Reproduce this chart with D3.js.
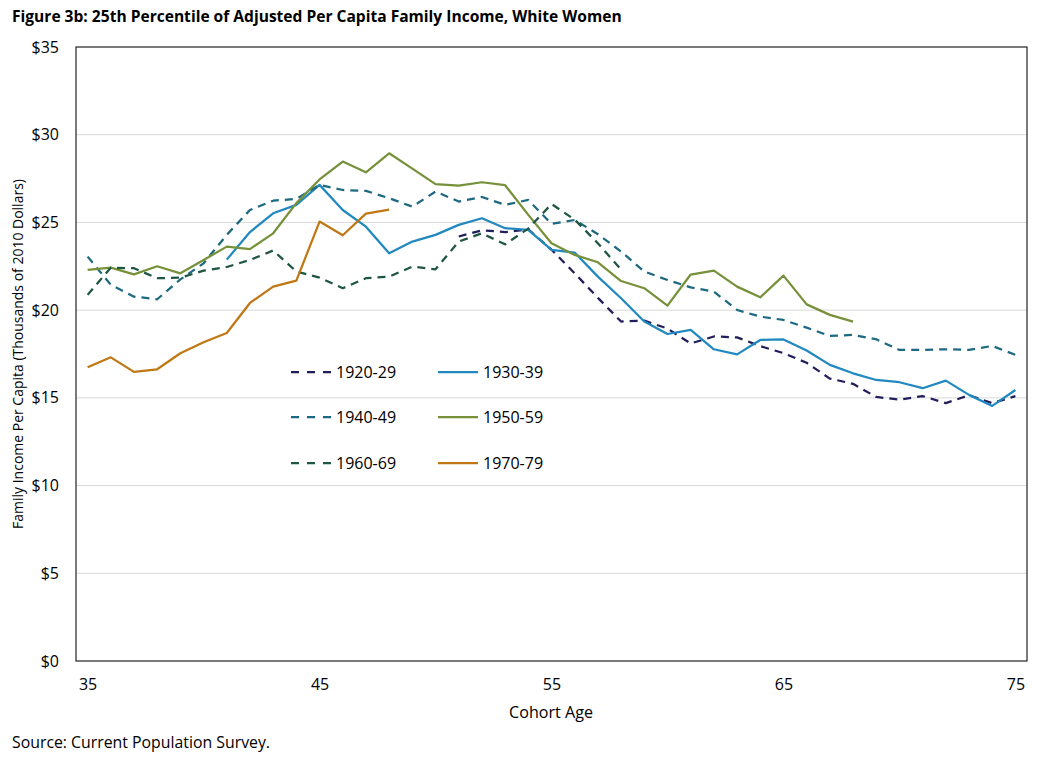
<!DOCTYPE html>
<html><head><meta charset="utf-8">
<script src="https://cdn.jsdelivr.net/npm/d3@7"></script>
<style>
body{margin:0;background:#fff}
svg{display:block}
text{font-family:"Open Sans",sans-serif;fill:#000}
</style>
</head><body>
<svg id="c" width="1044" height="759"></svg>
<script>
// ---- data ----
const ages = [35,36,37,38,39,40,41,42,43,44,45,46,47,48,49,50,51,52,53,54,55,56,57,58,59,60,61,62,63,64,65,66,67,68,69,70,71,72,73,74,75];
const xTickLabels = [35,45,55,65,75];
const yTicks = [0,5,10,15,20,25,30,35];
const cohorts = ["1920-29","1930-39","1940-49","1950-59","1960-69","1970-79"];
const s1920 = [null,null,null,null,null,null,null,null,null,null,null,null,null,null,null,null,
  24.2,24.55,24.45,24.6,23.45,22.1,20.7,19.35,19.4,18.95,18.1,18.5,18.45,17.95,17.55,17.0,16.1,15.8,15.05,14.9,15.1,14.7,15.15,14.7,15.1];
const s1930 = [null,null,null,null,null,null,
  22.88,24.45,25.52,26.0,27.14,25.71,24.76,23.24,23.91,24.29,24.86,25.24,24.67,24.57,23.43,23.28,21.91,20.68,19.35,18.64,18.87,17.77,17.48,18.3,18.33,17.7,16.88,16.4,16.02,15.89,15.55,15.98,15.17,14.54,15.45];
const s1940 = [23.05,21.45,20.77,20.62,21.75,22.67,24.29,25.71,26.24,26.34,27.14,26.85,26.8,26.38,25.9,26.76,26.19,26.45,26.0,26.28,24.92,25.14,24.33,23.34,22.2,21.72,21.3,21.06,20.01,19.63,19.44,19.0,18.53,18.59,18.34,17.73,17.73,17.77,17.73,17.96,17.45];
const s1950 = [22.29,22.42,22.04,22.5,22.1,22.86,23.62,23.48,24.38,26.1,27.45,28.47,27.86,28.94,28.07,27.18,27.1,27.29,27.12,25.43,23.81,23.15,22.73,21.66,21.25,20.26,22.03,22.25,21.34,20.73,21.97,20.33,19.73,19.35,
  null,null,null,null,null,null,null];
const s1960 = [20.87,22.42,22.39,21.82,21.85,22.25,22.46,22.86,23.4,22.2,21.85,21.25,21.82,21.91,22.48,22.33,23.91,24.38,23.75,24.65,26.05,25.16,23.81,22.31,
  null,null,null,null,null,null,null,null,null,null,null,null,null,null,null,null,null];
const s1970 = [16.74,17.31,16.48,16.63,17.54,18.17,18.7,20.41,21.34,21.68,25.05,24.27,25.5,25.73,
  null,null,null,null,null,null,null,null,null,null,null,null,null,null,null,null,null,null,null,null,null,null,null,null,null,null,null];
const seriesValues = [s1920,s1930,s1940,s1950,s1960,s1970];
const colors = ["#221e5c","#2189bf","#1d6a80","#76913a","#1f5642","#c07814"];
const dashed = [true,false,true,false,true,false];

// ---- layout ----
const svg = d3.select("#c");
const L = 76, R = 1027, T = 47, B = 661;
const x = d3.scalePoint().domain(ages).range([L,R]).padding(0.5);
const y = d3.scaleLinear().domain([0,35]).range([B,T]);

function fit(sel, w){
  const n = sel.node();
  const fs = parseFloat(sel.attr("font-size"));
  const len = n.getComputedTextLength();
  if(len>0) sel.attr("font-size", (fs*w/len).toFixed(2));
}

// gridlines
svg.append("g").selectAll("line").data(yTicks.filter(d=>d>0 && d<35)).join("line")
  .attr("x1",L).attr("x2",R).attr("y1",d=>y(d)).attr("y2",d=>y(d))
  .attr("stroke","#d9d9d9").attr("stroke-width",1);

// y axis labels
const yAxis = d3.axisLeft(y).tickValues(yTicks).tickSize(0).tickPadding(17).tickFormat(d=>"$"+d);
const ga = svg.append("g").attr("transform",`translate(${L},0)`).call(yAxis);
ga.select(".domain").remove();
ga.selectAll("text").attr("font-size",16).attr("font-family","Open Sans, sans-serif").attr("fill","#000");

// x axis labels
const xAxis = d3.axisBottom(x).tickValues(xTickLabels).tickSize(0).tickPadding(18);
const gx = svg.append("g").attr("transform",`translate(0,${B})`).call(xAxis);
gx.select(".domain").remove();
gx.selectAll("text").attr("font-size",16).attr("font-family","Open Sans, sans-serif").attr("fill","#000");

// plot frame
svg.append("rect").attr("x",L).attr("y",T).attr("width",R-L).attr("height",B-T)
  .attr("fill","none").attr("stroke","#222").attr("stroke-width",1.2);

// lines
const line = d3.line().defined(d=>d.v!=null).x(d=>x(d.a)).y(d=>y(d.v));
seriesValues.forEach((vals,i)=>{
  const pts = ages.map((a,j)=>({a:a,v:vals[j]}));
  svg.append("path").datum(pts).attr("d",line)
    .attr("fill","none").attr("stroke",colors[i]).attr("stroke-width",2.25)
    .attr("stroke-linejoin","round")
    .attr("stroke-dasharray",dashed[i]?"8,6":null);
});

// legend
const legX = [291,438], legY = [372,417,463];
cohorts.forEach((c,i)=>{
  const lx = legX[i%2], ly = legY[Math.floor(i/2)];
  svg.append("line").attr("x1",lx).attr("x2",lx+40).attr("y1",ly).attr("y2",ly)
    .attr("stroke",colors[i]).attr("stroke-width",2.25)
    .attr("stroke-dasharray",dashed[i]?"8,8":null);
  svg.append("text").attr("x",lx+45).attr("y",ly).attr("dy","0.35em")
    .attr("font-size",16).text(c);
});

// titles
const title = svg.append("text").attr("x",12).attr("y",22).attr("font-size",15)
  .attr("font-weight","bold").text("Figure 3b: 25th Percentile of Adjusted Per Capita Family Income, White Women");
fit(title,610);

const yt = svg.append("text").attr("transform","translate(23,354) rotate(-90)")
  .attr("text-anchor","middle").attr("font-size",14)
  .text("Family Income Per Capita (Thousands of 2010 Dollars)");
fit(yt,350);

const xt = svg.append("text").attr("x",551).attr("y",718).attr("text-anchor","middle")
  .attr("font-size",15).text("Cohort Age");
fit(xt,84);

const src = svg.append("text").attr("x",12).attr("y",748).attr("font-size",14)
  .text("Source: Current Population Survey.");
fit(src,258);
</script>
</body></html>
